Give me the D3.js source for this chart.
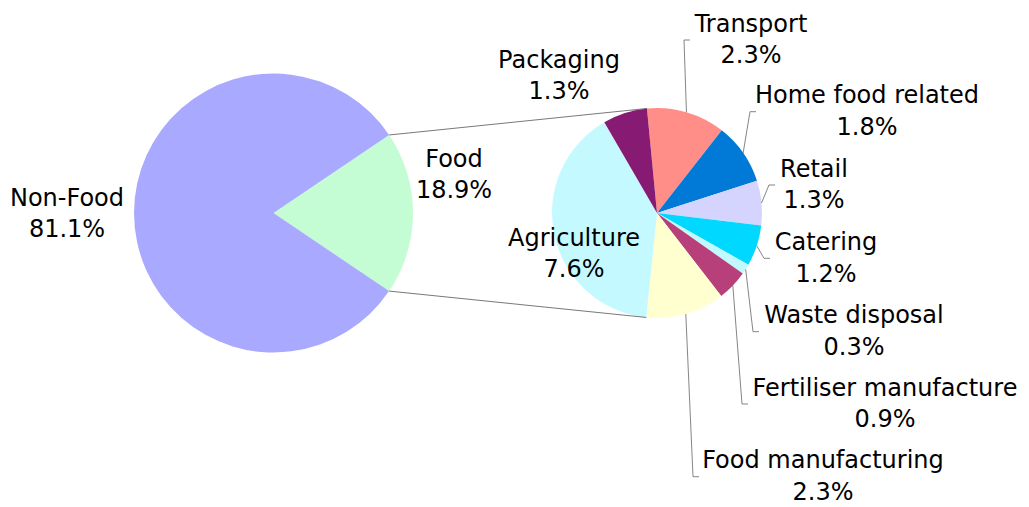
<!DOCTYPE html>
<html>
<head>
<meta charset="utf-8">
<script src="https://cdn.jsdelivr.net/npm/d3@7"></script>
<style>
  body { margin: 0; background: #fff; }
  text { font-family: "DejaVu Sans", Verdana, sans-serif; font-size: 24px; fill: #000; }
</style>
</head>
<body>
<div class="chart"></div>
<script>
var svgWidth = 1029;
var svgHeight = 507;

// main pie
var mainNames = ["Food", "Non-Food"];
var mainValues = [18.9, 81.1];
var mainColors = ["#c4fcd3", "#a9aaff"];

// breakdown of the food slice
var subNames = ["Transport", "Home food related", "Retail", "Catering", "Waste disposal",
  "Fertiliser manufacture", "Food manufacturing", "Agriculture", "Packaging"];
var subValues = [2.3, 1.8, 1.3, 1.2, 0.3, 0.9, 2.3, 7.6, 1.3];
var subColors = ["#ff8e88", "#007ad6", "#d4d4ff", "#00d8ff", "#c2f9ff",
  "#b8407a", "#ffffd0", "#c4faff", "#871a72"];

var svg = d3.select(".chart")
  .append("svg")
  .attr("width", svgWidth)
  .attr("height", svgHeight);

var rad = Math.PI / 180;

// big pie
var mainCx = 273.5, mainCy = 213, mainR = 139.5;
var mainPie = d3.pie().sort(null)
  .startAngle(56 * rad)
  .endAngle(416 * rad);
var mainArcs = mainPie(mainValues);
var mainArc = d3.arc().innerRadius(0).outerRadius(mainR);

var mainGroup = svg.append("g")
  .attr("transform", `translate(${mainCx}, ${mainCy})`);

mainGroup.selectAll("path")
  .data(mainArcs)
  .enter()
  .append("path")
  .attr("d", mainArc)
  .attr("fill", (d, i) => mainColors[i]);

// small pie
var subCx = 657, subCy = 213, subR = 105;
var subPie = d3.pie().sort(null)
  .startAngle(-5.5 * rad)
  .endAngle(354.5 * rad);
var subArcs = subPie(subValues);
var subArc = d3.arc().innerRadius(0).outerRadius(subR);

var subGroup = svg.append("g")
  .attr("transform", `translate(${subCx}, ${subCy})`);

subGroup.selectAll("path")
  .data(subArcs)
  .enter()
  .append("path")
  .attr("d", subArc)
  .attr("fill", (d, i) => subColors[i]);

function onCircle(cx, cy, r, a) {
  return [cx + r * Math.sin(a), cy - r * Math.cos(a)];
}

// connector lines between the pies
var food = mainArcs[0];
var topA = onCircle(mainCx, mainCy, mainR, food.startAngle);
var botA = onCircle(mainCx, mainCy, mainR, food.endAngle);
var topB = onCircle(subCx, subCy, subR, subArcs[0].startAngle);
var botB = onCircle(subCx, subCy, subR, subArcs[6].endAngle);

svg.append("line")
  .attr("x1", topA[0]).attr("y1", topA[1])
  .attr("x2", topB[0]).attr("y2", topB[1])
  .attr("stroke", "#555").attr("stroke-width", 0.8);
svg.append("line")
  .attr("x1", botA[0]).attr("y1", botA[1])
  .attr("x2", botB[0]).attr("y2", botB[1])
  .attr("stroke", "#555").attr("stroke-width", 0.8);

// label placement: x = centre of text block, y = leader tick level
var labelPos = {
  "Non-Food": { x: 67, y: 214 },
  "Food": { x: 454, y: 175 },
  "Packaging": { x: 559, y: 76 },
  "Agriculture": { x: 574, y: 254 },
  "Transport": { x: 751, y: 40, tick: 684 },
  "Home food related": { x: 867, y: 111.7, tick: 750 },
  "Retail": { x: 814, y: 185, tick: 769 },
  "Catering": { x: 826, y: 258.3, tick: 764 },
  "Waste disposal": { x: 854, y: 331.7, tick: 753 },
  "Fertiliser manufacture": { x: 885, y: 404, tick: 742 },
  "Food manufacturing": { x: 823, y: 476.7, tick: 693 }
};

function addLabel(name, value) {
  var p = labelPos[name];
  var t = svg.append("text")
    .attr("text-anchor", "middle")
    .attr("x", p.x)
    .attr("y", p.y - 8.3);
  t.append("tspan").attr("x", p.x).text(name);
  t.append("tspan").attr("x", p.x).attr("dy", 31.6).text(value.toFixed(1) + "%");
}

mainNames.forEach((n, i) => addLabel(n, mainValues[i]));
subNames.forEach((n, i) => addLabel(n, subValues[i]));

// leader lines for the outside labels
subArcs.forEach(function (d, i) {
  var p = labelPos[subNames[i]];
  if (p.tick === undefined) return;
  var mid = (d.startAngle + d.endAngle) / 2;
  var edge = onCircle(subCx, subCy, subR, mid);
  svg.append("polyline")
    .attr("points", [edge, [p.tick, p.y], [p.tick + 6, p.y]].map(q => q.join(",")).join(" "))
    .attr("fill", "none")
    .attr("stroke", "#666")
    .attr("stroke-width", 0.8);
});
</script>
</body>
</html>
